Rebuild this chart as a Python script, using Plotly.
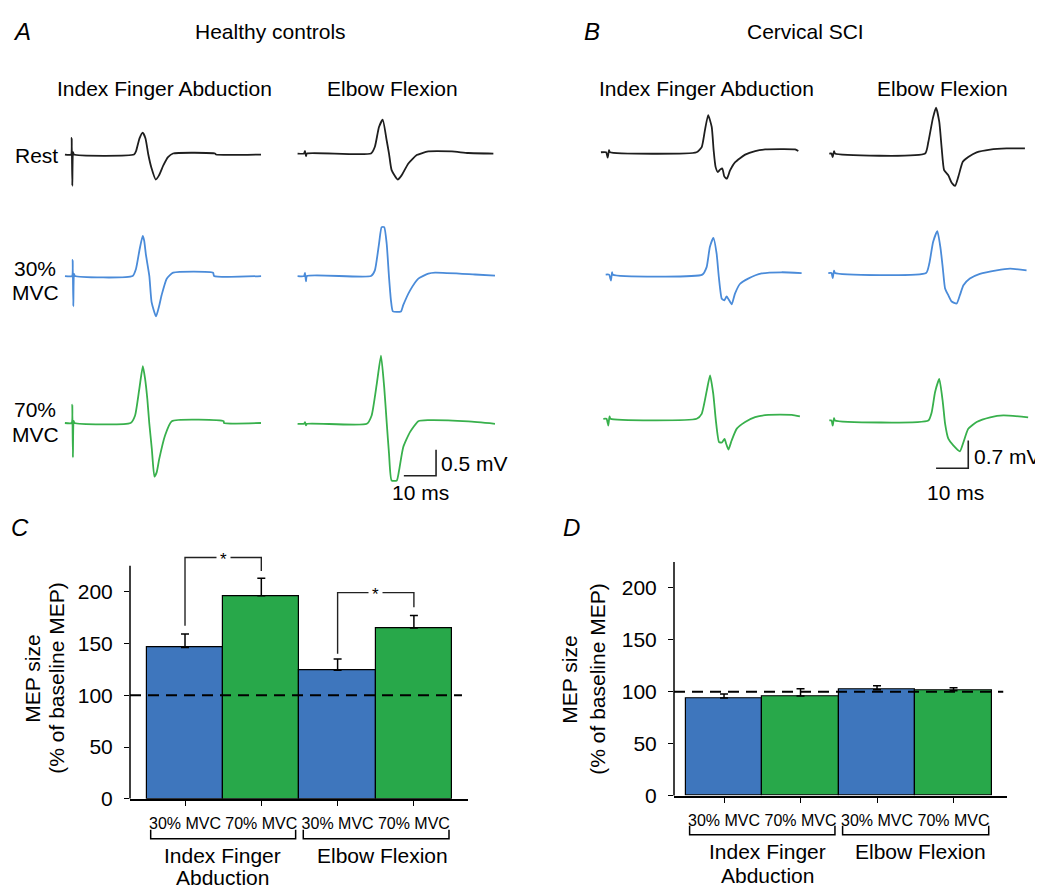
import plotly.graph_objects as go

FONT = "Liberation Sans, Arial, sans-serif"

# ---------------- data: MEP traces (time in ms from stimulus, amplitude in mV) ----------------
A_IDX_REST_T = [-2.1, -0.2, 0, 0.19, 0.4, 0.7, 19.35, 19.97, 21.06, 22.05, 22.92, 23.79, 24.78, 26.09, 27.11, 28.45, 29.91, 31.46, 44.5, 44.8, 58.8]
A_IDX_REST_V = [0, 0, 0.32, -0.60, 0.045, 0, 0, 0.063, 0.31, 0.42, 0.31, 0, -0.26, -0.48, -0.40, -0.21, -0.05, 0.02, 0.02, 0, 0]
A_IDX_30_T = [-2.4, -0.2, 0, 0.19, 0.4, 0.7, 18.6, 19.66, 20.8, 21.74, 22.2, 22.76, 23.8, 24.5, 25.87, 26.9, 27.6, 29.2, 31.2, 43.6, 43.9, 58.5]
A_IDX_30_V = [0, 0, 0.31, -0.58, 0.04, 0, 0, 0.14, 0.52, 0.77, 0.68, 0.40, 0, -0.50, -0.775, -0.56, -0.37, -0.05, 0.065, 0.065, 0, 0]
A_IDX_70_T = [-2.3, -0.2, 0, 0.19, 0.4, 0.7, 18.1, 19.5, 20.8, 21.9, 22.6, 23.3, 23.9, 24.7, 25.5, 26.2, 27.0, 28.8, 30.9, 47.0, 47.1, 58.6]
A_IDX_70_V = [0, 0, 0.35, -0.66, 0.04, 0, 0, 0.145, 0.65, 1.09, 0.85, 0.46, 0, -0.50, -1.03, -0.95, -0.69, -0.24, 0.035, 0.035, 0, 0]

A_ELB_REST_T = [-2.3, -0.3, 0, 0.3, 0.6, 20.5, 21.7, 22.98, 24.13, 25.37, 26.09, 26.9, 28.8, 30.0, 32.1, 34.7, 38.3, 45.6, 50.7, 58.5]
A_ELB_REST_V = [0, 0, 0.05, -0.05, 0, 0, 0.13, 0.51, 0.65, 0.25, 0, -0.32, -0.50, -0.42, -0.19, -0.03, 0.04, 0.04, 0.01, 0]
A_ELB_30_T = [-2.3, -0.3, 0, 0.3, 0.6, 20.5, 21.7, 22.98, 23.8, 24.6, 25.37, 26.09, 26.7, 27.3, 29.8, 30.5, 32.6, 35.2, 38.3, 40.4, 52.8, 59.0]
A_ELB_30_V = [0, 0, 0.06, -0.10, 0, 0, 0.11, 0.62, 0.94, 0.94, 0.62, -0.02, -0.47, -0.68, -0.68, -0.56, -0.28, -0.05, 0.045, 0.065, 0.03, 0.01]
A_ELB_70_T = [-2.3, -0.3, 0, 0.3, 0.6, 19.2, 20.7, 22.3, 23.6, 24.6, 25.4, 26.1, 26.9, 28.5, 29.2, 30.5, 32.6, 35.2, 38.3, 50.7, 59.0]
A_ELB_70_V = [0, 0, 0.03, -0.03, 0, 0, 0.16, 0.77, 1.31, 0.70, 0, -0.58, -1.09, -1.09, -0.90, -0.45, -0.16, 0.05, 0.07, 0.045, 0]

B_IDX_REST_T = [-2.1, -0.5, 0, 0.4, 0.7, 27.6, 29.2, 30.2, 31.2, 32.3, 32.9, 33.5, 34.2, 34.9, 35.6, 36.2, 37.0, 38.0, 39.6, 42.7, 45.8, 48.9, 58.2, 59.2]
B_IDX_REST_V = [0, 0, -0.135, 0.05, 0, 0, 0.13, 0.56, 0.94, 0.64, 0.05, -0.37, -0.50, -0.44, -0.41, -0.61, -0.67, -0.46, -0.25, -0.06, 0.03, 0.07, 0.07, 0.03]
B_IDX_30_T = [-1.65, -0.6, 0, 0.3, 0.6, 28.35, 29.7, 30.7, 31.8, 32.8, 33.5, 34.4, 35.2, 35.9, 36.7, 37.5, 38.5, 40.1, 42.6, 46.8, 53.0, 59.2]
B_IDX_30_V = [0, 0, -0.15, 0.06, 0, 0, 0.19, 0.70, 0.93, 0.53, -0.07, -0.61, -0.65, -0.55, -0.65, -0.75, -0.48, -0.23, -0.10, 0.03, 0.06, 0.04]
B_IDX_70_T = [-1.55, -0.55, 0, 0.37, 0.68, 27.45, 29.0, 30.6, 31.6, 32.6, 33.4, 34.4, 35.3, 36.1, 36.6, 37.3, 38.3, 39.9, 42.5, 45.6, 49.7, 57.0, 59.5]
B_IDX_70_V = [0, 0, -0.17, 0.06, 0, 0, 0.125, 0.72, 1.10, 0.63, -0.04, -0.59, -0.60, -0.51, -0.63, -0.78, -0.55, -0.25, -0.08, 0.04, 0.10, 0.10, 0.06]

B_ELB_REST_T = [-1.06, -0.37, 0, 0.4, 0.71, 28.7, 29.7, 31.1, 32.1, 33.1, 33.85, 34.6, 35.9, 36.95, 38.0, 39.0, 40.4, 42.1, 44.7, 48.9, 54.0, 59.7]
B_ELB_REST_V = [0, 0, -0.09, 0.06, 0, 0, 0.29, 0.89, 1.16, 0.80, 0.13, -0.42, -0.55, -0.74, -0.82, -0.59, -0.21, -0.09, 0.03, 0.10, 0.13, 0.13]
B_ELB_30_T = [-1.37, -0.37, 0, 0.4, 0.71, 29.0, 30.0, 31.2, 32.5, 33.5, 34.2, 34.9, 35.9, 36.95, 38.5, 39.5, 40.6, 42.6, 45.7, 50.9, 55.1, 60.2]
B_ELB_30_V = [0, 0, -0.13, 0.06, 0, 0, 0.24, 0.79, 1.06, 0.62, 0.12, -0.39, -0.56, -0.72, -0.77, -0.56, -0.31, -0.14, -0.02, 0.07, 0.11, 0.07]
B_ELB_70_T = [-1.06, -0.37, 0, 0.4, 0.71, 29.7, 30.75, 31.8, 33.1, 34.2, 34.9, 35.9, 37.45, 39.5, 40.6, 42.1, 44.7, 48.9, 53.0, 60.7]
B_ELB_70_V = [0, 0, -0.13, 0.06, 0, 0, 0.21, 0.72, 1.05, 0.46, -0.08, -0.46, -0.63, -0.78, -0.55, -0.21, -0.04, 0.08, 0.13, 0.08]

# ---------------- data: MEP size bar charts (% of baseline MEP) ----------------
BAR_LABELS = ["30% MVC", "70% MVC", "30% MVC", "70% MVC"]
GROUP_LABELS = ["Index Finger Abduction", "Elbow Flexion"]
C_VALUES = [146, 196, 124, 165]
C_ERRORS = [13, 17, 11, 12]
D_VALUES = [94, 96, 102, 101]
D_ERRORS = [4, 7, 4, 3]
Y_TICKS = [0, 50, 100, 150, 200]
Y_AXIS_TOP = 225
BASELINE = 100

# ---------------- styles ----------------
TRACE_COLORS = ["#1e1e1e", "#4a8bd9", "#38b04c"]
BAR_BLUE = "#3e76bd"
BAR_GREEN = "#28a84a"
PX_PER_MS = 3.22

# page body has an 8px margin; the capture compresses the page height slightly (≈900 -> 888)
OFF = 8
SY = 900 / 888
W, H = 1043 - OFF, 884


def px(p):
    return (p - OFF) / W


def py(p):
    return 1 - (p * SY - OFF) / H


fig = go.Figure()
layout = dict(
    width=W, height=H, margin=dict(l=0, r=0, t=0, b=0),
    paper_bgcolor="white", plot_bgcolor="rgba(0,0,0,0)", showlegend=False,
    font=dict(family=FONT, size=21, color="black"),
)

columns = [
    dict(xdom=(55, 284), t0=72.0, bases=(154.3, 275.7, 422.5), x0s=(71.7, 72.7, 72.3), pxmv=52.0,
         data=[(A_IDX_REST_T, A_IDX_REST_V), (A_IDX_30_T, A_IDX_30_V), (A_IDX_70_T, A_IDX_70_V)]),
    dict(xdom=(288, 512), t0=305.0, bases=(153.3, 275.7, 423.3), x0s=(305.0, 305.0, 305.0), pxmv=52.0,
         data=[(A_ELB_REST_T, A_ELB_REST_V), (A_ELB_30_T, A_ELB_30_V), (A_ELB_70_T, A_ELB_70_V)]),
    dict(xdom=(592, 818), t0=608.0, bases=(152.0, 274.3, 418.3), x0s=(607.7, 611.0, 608.3), pxmv=39.5,
         data=[(B_IDX_REST_T, B_IDX_REST_V), (B_IDX_30_T, B_IDX_30_V), (B_IDX_70_T, B_IDX_70_V)]),
    dict(xdom=(820, 1043), t0=832.7, bases=(153.3, 272.7, 420.0), x0s=(832.7, 832.7, 832.7), pxmv=39.5,
         data=[(B_ELB_REST_T, B_ELB_REST_V), (B_ELB_30_T, B_ELB_30_V), (B_ELB_70_T, B_ELB_70_V)]),
]
YDOM_PX = (95, 505)

for i, col in enumerate(columns, 1):
    sfx = str(i) if i > 1 else ""
    b0 = col["bases"][0]
    layout["xaxis" + sfx] = dict(domain=[px(col["xdom"][0]), px(col["xdom"][1])],
                                 range=[(col["xdom"][0] - col["t0"]) / PX_PER_MS,
                                        (col["xdom"][1] - col["t0"]) / PX_PER_MS],
                                 visible=False, anchor="y" + sfx, fixedrange=True)
    layout["yaxis" + sfx] = dict(domain=[py(YDOM_PX[1]), py(YDOM_PX[0])],
                                 range=[(b0 - YDOM_PX[1]) / col["pxmv"], (b0 - YDOM_PX[0]) / col["pxmv"]],
                                 visible=False, anchor="x" + sfx, fixedrange=True)
    for k, (tt, vv) in enumerate(col["data"]):
        dx = (col["x0s"][k] - col["t0"]) / PX_PER_MS
        dy = (b0 - col["bases"][k]) / col["pxmv"]
        fig.add_trace(go.Scatter(
            x=[t + dx for t in tt], y=[v + dy for v in vv], mode="lines",
            line=dict(color=TRACE_COLORS[k], width=1.8, shape="spline", smoothing=0.5),
            xaxis="x" + sfx, yaxis="y" + sfx, hoverinfo="skip"))

# scale bars (10 ms / 0.5 mV on A, 10 ms / 0.7 mV on B)
A_SCALE = dict(t=30.7, v=-6.19, dt=10, dv=0.5)
B_SCALE = dict(t=32.1, v=-7.96, dt=10, dv=0.7)
for s, ax in ((A_SCALE, "2"), (B_SCALE, "4")):
    fig.add_trace(go.Scatter(
        x=[s["t"], s["t"] + s["dt"], s["t"] + s["dt"]], y=[s["v"], s["v"], s["v"] + s["dv"]],
        mode="lines", line=dict(color="#222", width=1.6), xaxis="x" + ax, yaxis="y" + ax, hoverinfo="skip"))

# ---------------- bar charts ----------------
bar_panels = [
    dict(ax="5", xdom=(130, 468), xr=(-0.721, 3.709), y0=798, pxu=1.035, vals=C_VALUES, errs=C_ERRORS,
         dash_end=3.63),
    dict(ax="6", xdom=(674, 1007), xr=(-0.654, 3.699), y0=795, pxu=1.0385, vals=D_VALUES, errs=D_ERRORS,
         dash_end=3.65),
]
YMAX_VIEW = 240
shapes = []
for bp in bar_panels:
    a = bp["ax"]
    top = bp["y0"] - YMAX_VIEW * bp["pxu"]
    layout["xaxis" + a] = dict(domain=[px(bp["xdom"][0]), px(bp["xdom"][1])], range=list(bp["xr"]),
                               anchor="y" + a, showline=True, linecolor="black", linewidth=1.5,
                               ticks="outside", ticklen=5, tickwidth=1.3, tickcolor="black",
                               tickvals=[0, 1, 2, 3], ticktext=BAR_LABELS,
                               tickfont=dict(size=16, family=FONT), ticklabelstandoff=4,
                               showgrid=False, zeroline=False, fixedrange=True)
    layout["yaxis" + a] = dict(domain=[py(bp["y0"]), py(top)], range=[0, YMAX_VIEW], anchor="x" + a,
                               showline=False, ticks="outside", ticklen=5, tickwidth=1.3, tickcolor="black",
                               tickvals=Y_TICKS, tickfont=dict(size=21, family=FONT), ticklabelstandoff=7,
                               showgrid=False, zeroline=False, fixedrange=True)
    # y-axis spine: only up to 225 (brackets above it need the extra headroom)
    shapes.append(dict(type="line", xref="paper", yref="y" + a, x0=px(bp["xdom"][0]), x1=px(bp["xdom"][0]),
                       y0=0, y1=Y_AXIS_TOP, line=dict(color="black", width=1.5)))
    fig.add_trace(go.Bar(
        x=[0, 1, 2, 3], y=bp["vals"], width=1,
        marker=dict(color=[BAR_BLUE, BAR_GREEN, BAR_BLUE, BAR_GREEN], line=dict(color="black", width=1.2)),
        error_y=dict(type="data", array=bp["errs"], arrayminus=[0, 0, 0, 0], symmetric=False,
                     color="black", thickness=1.5, width=4),
        xaxis="x" + a, yaxis="y" + a, hoverinfo="skip"))
    fig.add_trace(go.Scatter(
        x=[bp["xr"][0], bp["dash_end"]], y=[BASELINE, BASELINE], mode="lines",
        line=dict(color="black", width=2, dash="11px,7px"), xaxis="x" + a, yaxis="y" + a, hoverinfo="skip"))

# significance brackets on panel C
SIG_PAIRS = [((0, 1), (167, 233, 220)), ((2, 3), (140, 199, 185))]
annotations = []
for (i0, i1), (ys, ytop, ye) in SIG_PAIRS:
    fig.add_trace(go.Scatter(x=[i0, i0, i1, i1], y=[ys, ytop, ytop, ye], mode="lines",
                             line=dict(color="#222", width=1.4), xaxis="x5", yaxis="y5", hoverinfo="skip"))
    annotations.append(dict(text="*", x=(i0 + i1) / 2, y=ytop, xref="x5", yref="y5", showarrow=False,
                            font=dict(size=17, family=FONT, color="black"), bgcolor="white",
                            borderpad=3, yshift=-2))

# group brackets under tick labels
for a, ylo, yhi in (("5", 829, 838), ("6", 825, 834)):
    for xa0, xa1 in ((-0.45, 1.45), (1.55, 3.46)):
        shapes.append(dict(type="path", xref="x" + a, yref="paper",
                           path=f"M {xa0},{py(ylo)} L {xa0},{py(yhi)} L {xa1},{py(yhi)} L {xa1},{py(ylo)}",
                           line=dict(color="black", width=1.5)))


def ann(text, x, y, size=21, xanchor="center", italic=False, angle=0):
    annotations.append(dict(text=f"<i>{text}</i>" if italic else text, x=px(x), y=py(y),
                            xref="paper", yref="paper", xanchor=xanchor, yanchor="middle",
                            showarrow=False, textangle=angle, font=dict(size=size, family=FONT)))


ann("A", 11, 31, 24, "left", italic=True)
ann("Healthy controls", 270, 31)
ann("B", 582, 31, 24, "left", italic=True)
ann("Cervical SCI", 805, 31)
ann("Index Finger Abduction", 164, 88)
ann("Elbow Flexion", 392, 88)
ann("Index Finger Abduction", 706, 88)
ann("Elbow Flexion", 942, 88)
ann("Rest", 36, 155)
ann("30%", 35, 268)
ann("MVC", 35, 292)
ann("70%", 35, 409)
ann("MVC", 35, 434)
ann("0.5 mV", 439, 463, xanchor="left")
ann("10 ms", 420, 492)
ann("0.7 mV", 972, 456, xanchor="left")
ann("10 ms", 955, 492)
ann("C", 9, 527, 24, "left", italic=True)
ann("D", 561, 527, 24, "left", italic=True)
ann("MEP size", 33, 678, angle=-90)
ann("(% of baseline MEP)", 57, 678, angle=-90)
ann("MEP size", 570, 679, angle=-90)
ann("(% of baseline MEP)", 598, 679, angle=-90)
ann("Index Finger", 222, 855)
ann("Abduction", 222, 877)
ann(GROUP_LABELS[1], 382, 855)
ann("Index Finger", 767, 851)
ann("Abduction", 767, 875)
ann(GROUP_LABELS[1], 920, 851)

layout["shapes"] = shapes
layout["annotations"] = annotations
layout["bargap"] = 0
fig.update_layout(**layout)
fig.write_html("out.html")
